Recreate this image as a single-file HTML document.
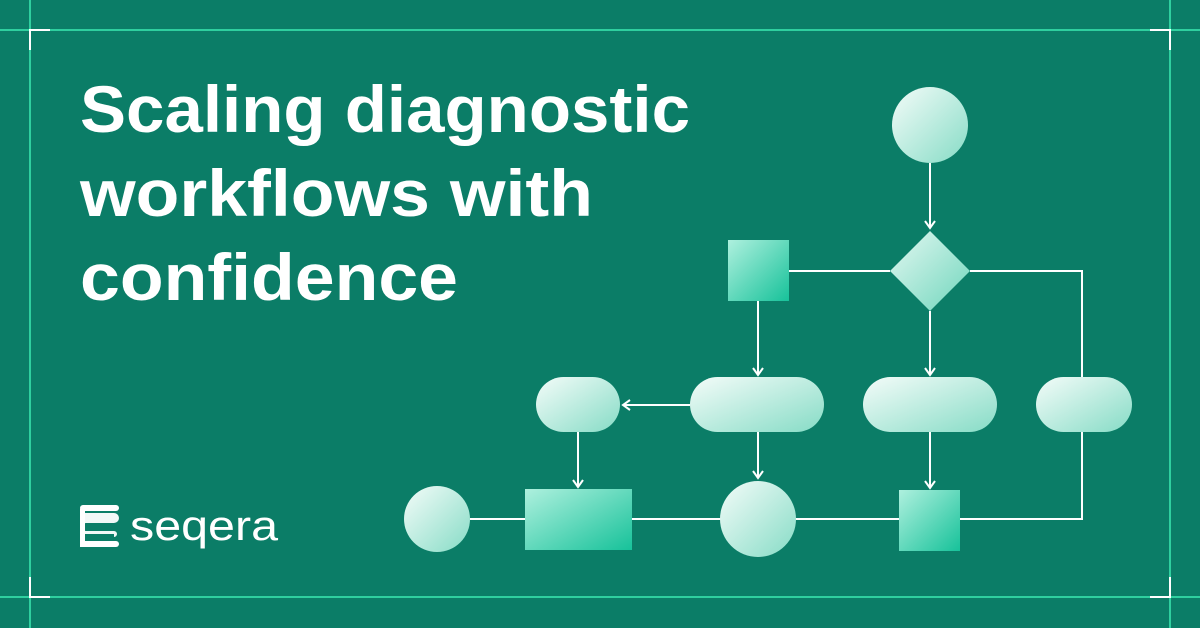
<!DOCTYPE html>
<html><head><meta charset="utf-8"><style>
html,body{margin:0;padding:0;background:#0b7d67;}
svg{display:block}
</style></head><body>
<svg width="1200" height="628" viewBox="0 0 1200 628" xmlns="http://www.w3.org/2000/svg">
<defs>
<linearGradient id="lg" x1="0" y1="0" x2="1" y2="1">
<stop offset="0" stop-color="#f4fcf9"/><stop offset="1" stop-color="#86dcc6"/></linearGradient>
<linearGradient id="dg" x1="0" y1="0" x2="1" y2="1">
<stop offset="0" stop-color="#aef0de"/><stop offset="1" stop-color="#17c29a"/></linearGradient>
<linearGradient id="mg" x1="0" y1="0" x2="1" y2="1">
<stop offset="0" stop-color="#e4f8f2"/><stop offset="1" stop-color="#6fd6bc"/></linearGradient>
<marker id="ar" viewBox="0 0 12 12" refX="10" refY="6" markerWidth="12" markerHeight="12" markerUnits="userSpaceOnUse" orient="auto">
<path d="M3,1 L10,6 L3,11" fill="none" stroke="#fff" stroke-width="2"/></marker>
</defs>
<rect width="1200" height="628" fill="#0b7d67"/>
<g stroke="#2fcf9f" stroke-width="2">
<line x1="0" y1="30" x2="1200" y2="30"/><line x1="0" y1="597" x2="1200" y2="597"/>
<line x1="30" y1="0" x2="30" y2="628"/><line x1="1170" y1="0" x2="1170" y2="628"/>
</g>
<g stroke="#fff" stroke-width="2" fill="none">
<path d="M30,50 V30 H50"/><path d="M1150,30 H1170 V50"/>
<path d="M30,577 V597 H50"/><path d="M1150,597 H1170 V577"/>
</g>
<g font-family="Liberation Sans, sans-serif" font-weight="bold" fill="#fff" font-size="66">
<text x="80" y="132" textLength="610" lengthAdjust="spacingAndGlyphs">Scaling diagnostic</text>
<text x="80" y="216" textLength="513" lengthAdjust="spacingAndGlyphs">workflows with</text>
<text x="80" y="300" textLength="378" lengthAdjust="spacingAndGlyphs">confidence</text>
</g>
<!-- logo -->
<g fill="#fff">
<rect x="80" y="505" width="39" height="6" rx="3"/>
<rect x="80" y="541" width="39" height="6" rx="3"/>
<path d="M82,513 h32 a5,5 0 0 1 0,10 h-28 a4,4 0 0 0 0,8 h28 a3,3 0 0 1 0,6 v-3 h-32 z" opacity="0.95"/>
<rect x="80" y="509" width="5" height="38"/>
</g>
<text x="130" y="540" font-family="Liberation Sans, sans-serif" font-size="42" fill="#fff" textLength="148" lengthAdjust="spacingAndGlyphs">seqera</text>
<!-- connectors -->
<g stroke="#fff" stroke-width="2" fill="none">
<line x1="930" y1="163" x2="930" y2="228" marker-end="url(#ar)"/>
<line x1="789" y1="271" x2="890" y2="271"/>
<path d="M970,271 H1082 V377"/>
<path d="M1082,432 V519 H960"/>
<line x1="758" y1="301" x2="758" y2="375" marker-end="url(#ar)"/>
<line x1="930" y1="311" x2="930" y2="375" marker-end="url(#ar)"/>
<line x1="690" y1="405" x2="623" y2="405" marker-end="url(#ar)"/>
<line x1="578" y1="432" x2="578" y2="487" marker-end="url(#ar)"/>
<line x1="758" y1="432" x2="758" y2="478" marker-end="url(#ar)"/>
<line x1="930" y1="432" x2="930" y2="488" marker-end="url(#ar)"/>
<line x1="470" y1="519" x2="899" y2="519"/>
</g>
<!-- nodes -->
<circle cx="930" cy="125" r="38" fill="url(#lg)"/>
<rect x="728" y="240" width="61" height="61" fill="url(#dg)"/>
<polygon points="930,231 970,271 930,311 890,271" fill="url(#mg)"/>
<rect x="536" y="377" width="84" height="55" rx="27.5" fill="url(#lg)"/>
<rect x="690" y="377" width="134" height="55" rx="27.5" fill="url(#lg)"/>
<rect x="863" y="377" width="134" height="55" rx="27.5" fill="url(#lg)"/>
<rect x="1036" y="377" width="96" height="55" rx="27.5" fill="url(#lg)"/>
<circle cx="437" cy="519" r="33" fill="url(#lg)"/>
<rect x="525" y="489" width="107" height="61" fill="url(#dg)"/>
<circle cx="758" cy="519" r="38" fill="url(#lg)"/>
<rect x="899" y="490" width="61" height="61" fill="url(#dg)"/>
</svg>
</body></html>
